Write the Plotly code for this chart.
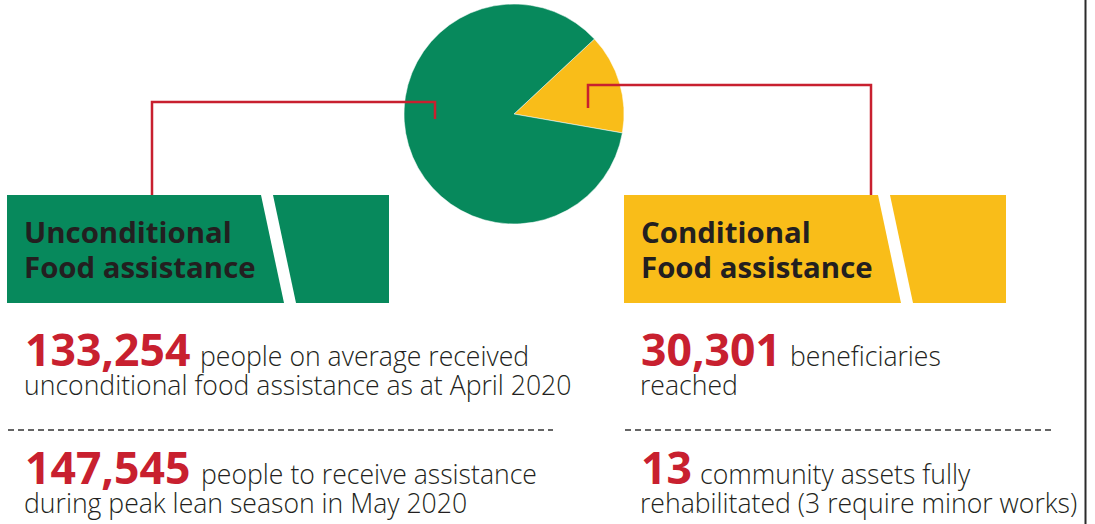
import plotly.graph_objects as go

W, H = 1095, 524

# Data
pie_labels = ["Conditional Food assistance", "Unconditional Food assistance"]
pie_values = [14.7, 85.3]  # slice shares as drawn in the reference (%)
headers = ["Unconditional<br>Food assistance", "Conditional<br>Food assistance"]
headline_numbers = ["133,254", "147,545", "30,301", "13"]
headline_line1 = ["people on average received", "people to receive assistance",
                  "beneficiaries", "community assets fully"]
headline_line2 = ["unconditional food assistance as at April 2020",
                  "during peak lean season in May 2020",
                  "reached",
                  "rehabilitated (3 require minor works)"]

GREEN = "#07895c"
YELLOW = "#f9bd19"
RED = "#c8202f"
DARK = "#231f20"
FONT = "Open Sans"

fig = go.Figure()

# Pie
fig.add_trace(go.Pie(
    labels=pie_labels, values=pie_values, sort=False, direction="clockwise",
    rotation=47, marker=dict(colors=[YELLOW, GREEN], line=dict(color="white", width=0.5)),
    textinfo="none", hoverinfo="label", showlegend=False,
    domain=dict(x=[404 / W, 624 / W], y=[1 - 224 / H, 1 - 4 / H]),
))

shapes = []
# Header boxes (split with slanted white gap)
def box(x0, x1, gx_top, gx_bot, gap, color):
    y0, y1 = 195, 303
    shapes.append(dict(type="path", xref="x", yref="y", line=dict(width=0), fillcolor=color, layer="below",
                       path=f"M{x0},{y0} L{gx_top},{y0} L{gx_bot},{y1} L{x0},{y1} Z"))
    shapes.append(dict(type="path", xref="x", yref="y", line=dict(width=0), fillcolor=color, layer="below",
                       path=f"M{gx_top+gap},{y0} L{x1},{y0} L{x1},{y1} L{gx_bot+gap},{y1} Z"))

box(7, 389, 261, 284, 12, GREEN)
box(624, 1006, 878, 901, 12, YELLOW)

# Red connector lines
shapes.append(dict(type="path", xref="x", yref="y", line=dict(color=RED, width=2.5),
                   path="M152,195 L152,102 L435,102 L435,119"))
shapes.append(dict(type="path", xref="x", yref="y", line=dict(color=RED, width=2.5),
                   path="M588,108 L588,85 L871,85 L871,195"))
# Dashed separators
shapes.append(dict(type="line", xref="x", yref="y", x0=8, x1=553, y0=430, y1=430,
                   line=dict(color="#333333", width=1.5, dash="6px,4px")))
shapes.append(dict(type="line", xref="x", yref="y", x0=625, x1=1053, y0=430, y1=430,
                   line=dict(color="#333333", width=1.5, dash="6px,4px")))
# Right vertical rule
shapes.append(dict(type="line", xref="x", yref="y", x0=1085.5, x1=1085.5, y0=0, y1=524,
                   line=dict(color="#2b2b2b", width=2)))

annotations = []
def txt(x, baseline, text, size, color=DARK, weight="normal"):
    annotations.append(dict(x=x, y=baseline - 0.388 * size, xref="x", yref="y",
                            xanchor="left", yanchor="middle", showarrow=False, text=text,
                            font=dict(family=FONT, size=size, color=color, weight=weight)))

# Headers
txt(22, 243, "Unconditional", 29.4, weight="bold")
txt(22, 278, "Food assistance", 29.4, weight="bold")
txt(639, 243, "Conditional", 29.4, weight="bold")
txt(639, 278, "Food assistance", 29.4, weight="bold")

# Figures
lefts = [23, 23, 639, 639]
bases = [366, 484, 366, 484]
num_w = [175, 176, 149, 59]
for i in range(4):
    txt(lefts[i], bases[i], headline_numbers[i], 44.5, color=RED, weight="bold")
    txt(lefts[i] + num_w[i], bases[i], headline_line1[i], 26.6, weight=300)
    txt(lefts[i] - 1, bases[i] + 29, headline_line2[i], 26.6, weight=300)

fig.update_layout(
    width=W, height=H, margin=dict(l=0, r=0, t=0, b=0),
    paper_bgcolor="white", plot_bgcolor="white",
    xaxis=dict(range=[0, W], visible=False, fixedrange=True),
    yaxis=dict(range=[H, 0], visible=False, fixedrange=True),
    shapes=shapes, annotations=annotations, showlegend=False,
)
fig.write_html("out.html", config={"displayModeBar": False},
               post_script="document.body.style.margin='0';document.body.style.overflow='hidden';")
